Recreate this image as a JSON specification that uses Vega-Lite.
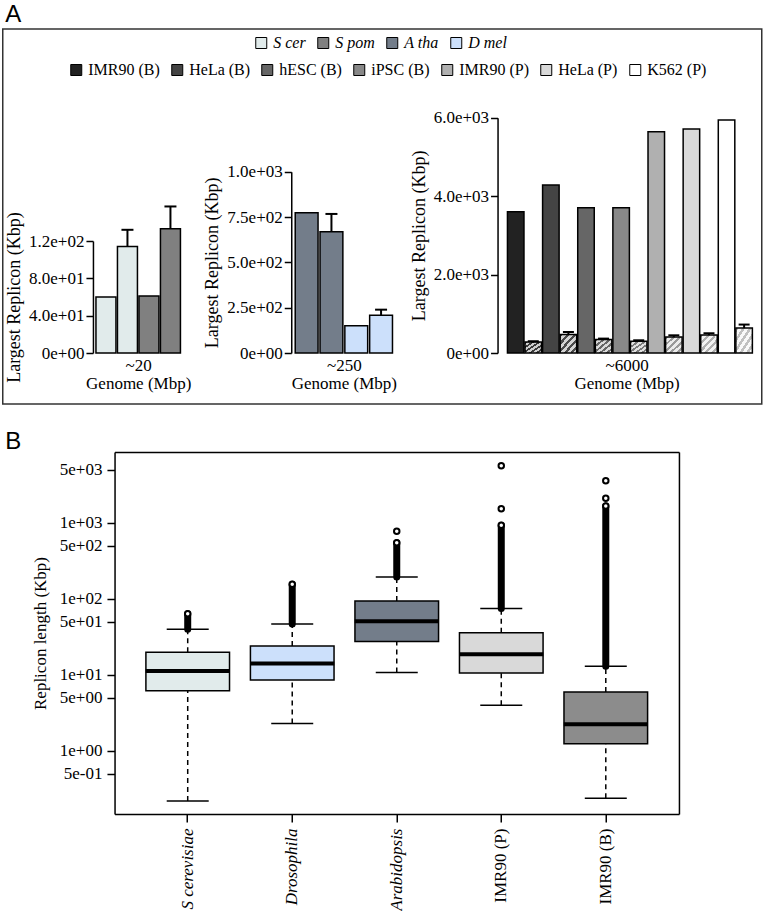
{
"$schema": "https://vega.github.io/schema/vega-lite/v6.json",
"padding": {"left": 1.75, "top": 2, "right": 0, "bottom": 0},
"config": {
  "font": "Liberation Serif, Times New Roman, Times, serif",
  "view": {"stroke": null},
  "axis": {"labelFont": "Liberation Serif, Times New Roman, Times, serif", "labelFontSize": 17, "labelColor": "black", "titleFont": "Liberation Serif, Times New Roman, Times, serif", "titleFontSize": 17, "titleFontWeight": "normal", "titleColor": "black", "domainColor": "black", "domainWidth": 1.5, "tickColor": "black", "tickWidth": 1.5, "tickSize": 7, "labelPadding": 2, "grid": false, "labelFlush": false, "labelOverlap": false},
  "legend": {"labelFont": "Liberation Serif, Times New Roman, Times, serif", "labelFontSize": 16, "labelColor": "black", "symbolType": "square", "symbolSize": 121, "symbolStrokeColor": "black", "symbolStrokeWidth": 1, "symbolOpacity": 1, "labelOffset": 4, "columnPadding": 9, "padding": 0, "direction": "horizontal", "orient": "none"},
  "title": {"font": "Liberation Sans, Arial, sans-serif", "fontSize": 24, "fontWeight": "normal", "color": "black", "anchor": "start", "frame": "group"}
},
"bounds": "flush",
"spacing": 48,
"vconcat": [
{
  "title": {"text": "A", "offset": 2, "dx": 2.5},
  "width": 759, "height": 375,
  "view": {"stroke": "#333333", "strokeWidth": 1.5},
  "resolve": {"scale": {"x": "independent", "y": "independent", "color": "independent"}},
  "layer": [
    {
      "data": {"values": [
        {"bar": "S cer 1", "species": "S cer", "value": 60},
        {"bar": "S cer 2", "species": "S cer", "value": 114, "err": 132},
        {"bar": "S pom 1", "species": "S pom", "value": 61},
        {"bar": "S pom 2", "species": "S pom", "value": 133, "err": 157}
      ]},
      "encoding": {
        "x": {"field": "bar", "type": "nominal", "sort": null,
              "scale": {"domain": ["S cer 1", "S cer 2", "S pom 1", "S pom 2"], "range": [90.2, 180.7], "paddingInner": 0.07, "paddingOuter": 0.14},
              "axis": {"orient": "bottom", "title": ["~20", "Genome (Mbp)"], "labels": false, "ticks": false, "domain": false, "offset": -51, "titlePadding": 4, "titleLineHeight": 18}}
      },
      "layer": [
        {"mark": {"type": "bar", "stroke": "black", "strokeWidth": 1.5},
         "encoding": {
           "y": {"field": "value", "type": "quantitative", "stack": null, "title": "Largest Replicon (Kbp)",
                 "scale": {"domain": [0, 120], "range": [324, 212], "nice": false},
                 "axis": {"orient": "left", "values": [0, 40, 80, 120], "labelExpr": "datum.value == 0 ? '0e+00' : replace(format(datum.value, '.1e'), 'e+', 'e+0')", "offset": -90.2, "titlePadding": 5, "titleFontSize": 18}},
           "color": {"field": "species", "type": "nominal",
                     "scale": {"domain": ["S cer", "S pom", "A tha", "D mel"], "range": ["#e1ebeb", "#808080", "#737d8a", "#cce0fb"]},
                     "legend": {"title": null, "legendX": 250.5, "legendY": 6, "labelFontStyle": "italic"}}
         }},
        {"transform": [{"filter": "isValid(datum.err)"}],
         "mark": {"type": "rule", "color": "black", "strokeWidth": 2},
         "encoding": {"y": {"field": "value", "type": "quantitative", "title": "Largest Replicon (Kbp)"}, "y2": {"field": "err"}}},
        {"transform": [{"filter": "isValid(datum.err)"}],
         "mark": {"type": "tick", "color": "black", "thickness": 2, "size": 12, "opacity": 1},
         "encoding": {"y": {"field": "err", "type": "quantitative", "title": "Largest Replicon (Kbp)"}}}
      ]
    },
    {
      "data": {"values": [
        {"bar": "A tha 1", "species": "A tha", "value": 774},
        {"bar": "A tha 2", "species": "A tha", "value": 669, "err": 767},
        {"bar": "D mel 1", "species": "D mel", "value": 150},
        {"bar": "D mel 2", "species": "D mel", "value": 208, "err": 239}
      ]},
      "encoding": {
        "x": {"field": "bar", "type": "nominal", "sort": null,
              "scale": {"domain": ["A tha 1", "A tha 2", "D mel 1", "D mel 2"], "range": [288.5, 393.7], "paddingInner": 0.08, "paddingOuter": 0.16},
              "axis": {"orient": "bottom", "title": ["~250", "Genome (Mbp)"], "labels": false, "ticks": false, "domain": false, "offset": -51, "titlePadding": 4, "titleLineHeight": 18}}
      },
      "layer": [
        {"mark": {"type": "bar", "stroke": "black", "strokeWidth": 1.5},
         "encoding": {
           "y": {"field": "value", "type": "quantitative", "stack": null, "title": "Largest Replicon (Kbp)",
                 "scale": {"domain": [0, 1000], "range": [324, 142.7], "nice": false},
                 "axis": {"orient": "left", "values": [0, 250, 500, 750, 1000], "labelExpr": "datum.value == 0 ? '0e+00' : replace(format(datum.value, '.1e'), 'e+', 'e+0')", "offset": -288.5, "titlePadding": 5, "titleFontSize": 18}},
           "color": {"field": "species", "type": "nominal",
                     "scale": {"domain": ["S cer", "S pom", "A tha", "D mel"], "range": ["#e1ebeb", "#808080", "#737d8a", "#cce0fb"]},
                     "legend": null}
         }},
        {"transform": [{"filter": "isValid(datum.err)"}],
         "mark": {"type": "rule", "color": "black", "strokeWidth": 2},
         "encoding": {"y": {"field": "value", "type": "quantitative", "title": "Largest Replicon (Kbp)"}, "y2": {"field": "err"}}},
        {"transform": [{"filter": "isValid(datum.err)"}],
         "mark": {"type": "tick", "color": "black", "thickness": 2, "size": 12, "opacity": 1},
         "encoding": {"y": {"field": "err", "type": "quantitative", "title": "Largest Replicon (Kbp)"}}}
      ]
    },
    {
      "data": {"values": [
        {"cell": "IMR90 (B)", "measure": "max", "value": 3600},
        {"cell": "IMR90 (B)", "measure": "mean", "value": 281, "err": 300},
        {"cell": "HeLa (B)", "measure": "max", "value": 4281},
        {"cell": "HeLa (B)", "measure": "mean", "value": 470, "err": 536},
        {"cell": "hESC (B)", "measure": "max", "value": 3702},
        {"cell": "hESC (B)", "measure": "mean", "value": 342, "err": 367},
        {"cell": "iPSC (B)", "measure": "max", "value": 3702},
        {"cell": "iPSC (B)", "measure": "mean", "value": 298, "err": 324},
        {"cell": "IMR90 (P)", "measure": "max", "value": 5643},
        {"cell": "IMR90 (P)", "measure": "mean", "value": 409, "err": 451},
        {"cell": "HeLa (P)", "measure": "max", "value": 5711},
        {"cell": "HeLa (P)", "measure": "mean", "value": 460, "err": 503},
        {"cell": "K562 (P)", "measure": "max", "value": 5940},
        {"cell": "K562 (P)", "measure": "mean", "value": 638, "err": 725}
      ]},
      "encoding": {
        "x": {"field": "cell", "type": "nominal", "sort": null,
              "scale": {"domain": ["IMR90 (B)", "HeLa (B)", "hESC (B)", "iPSC (B)", "IMR90 (P)", "HeLa (P)", "K562 (P)"], "range": [494.8, 752.8], "paddingInner": 0, "paddingOuter": 0.171, "align": 0.78},
              "axis": {"orient": "bottom", "title": ["~6000", "Genome (Mbp)"], "labels": false, "ticks": false, "domain": false, "offset": -51, "titlePadding": 4, "titleLineHeight": 18}},
        "xOffset": {"field": "measure", "type": "nominal", "sort": null, "scale": {"domain": ["max", "mean"], "paddingInner": 0.06, "paddingOuter": 0.03}}
      },
      "layer": [
        {"transform": [{"filter": "datum.measure == 'max'"}],
         "mark": {"type": "bar", "stroke": "black", "strokeWidth": 1.5},
         "encoding": {
           "y": {"field": "value", "type": "quantitative", "stack": null, "title": "Largest Replicon (Kbp)",
                 "scale": {"domain": [0, 6000], "range": [324, 88.7], "nice": false},
                 "axis": {"orient": "left", "values": [0, 2000, 4000, 6000], "labelExpr": "datum.value == 0 ? '0e+00' : replace(format(datum.value, '.1e'), 'e+', 'e+0')", "offset": -494.8, "titlePadding": 5, "titleFontSize": 18}},
           "color": {"field": "cell", "type": "nominal",
                     "scale": {"domain": ["IMR90 (B)", "HeLa (B)", "hESC (B)", "iPSC (B)", "IMR90 (P)", "HeLa (P)", "K562 (P)"], "range": ["#222222", "#444444", "#666666", "#888888", "#b0b0b0", "#d9d9d9", "#ffffff"]},
                     "legend": {"title": null, "legendX": 65.5, "legendY": 33}}
         }},
        {"transform": [{"filter": "datum.measure == 'mean'"}],
         "mark": {"type": "bar", "stroke": "black", "strokeWidth": 1.5},
         "encoding": {
           "y": {"field": "value", "type": "quantitative", "stack": null, "title": "Largest Replicon (Kbp)"},
           "fill": {"condition": [
             {"test": "datum.cell == 'IMR90 (B)'", "value": {"gradient": "linear", "x1": 0, "y1": 0, "x2": 1, "y2": 1, "stops": [{"offset": 0, "color": "#3a3a3a"}, {"offset": 0.09, "color": "#3a3a3a"}, {"offset": 0.09, "color": "#cfcfcf"}, {"offset": 0.2, "color": "#cfcfcf"}, {"offset": 0.2, "color": "#3a3a3a"}, {"offset": 0.29, "color": "#3a3a3a"}, {"offset": 0.29, "color": "#cfcfcf"}, {"offset": 0.4, "color": "#cfcfcf"}, {"offset": 0.4, "color": "#3a3a3a"}, {"offset": 0.49, "color": "#3a3a3a"}, {"offset": 0.49, "color": "#cfcfcf"}, {"offset": 0.6, "color": "#cfcfcf"}, {"offset": 0.6, "color": "#3a3a3a"}, {"offset": 0.69, "color": "#3a3a3a"}, {"offset": 0.69, "color": "#cfcfcf"}, {"offset": 0.8, "color": "#cfcfcf"}, {"offset": 0.8, "color": "#3a3a3a"}, {"offset": 0.89, "color": "#3a3a3a"}, {"offset": 0.89, "color": "#cfcfcf"}, {"offset": 1, "color": "#cfcfcf"}]}},
             {"test": "datum.cell == 'HeLa (B)'", "value": {"gradient": "linear", "x1": 0, "y1": 0, "x2": 1, "y2": 1, "stops": [{"offset": 0, "color": "#4a4a4a"}, {"offset": 0.09, "color": "#4a4a4a"}, {"offset": 0.09, "color": "#d4d4d4"}, {"offset": 0.2, "color": "#d4d4d4"}, {"offset": 0.2, "color": "#4a4a4a"}, {"offset": 0.29, "color": "#4a4a4a"}, {"offset": 0.29, "color": "#d4d4d4"}, {"offset": 0.4, "color": "#d4d4d4"}, {"offset": 0.4, "color": "#4a4a4a"}, {"offset": 0.49, "color": "#4a4a4a"}, {"offset": 0.49, "color": "#d4d4d4"}, {"offset": 0.6, "color": "#d4d4d4"}, {"offset": 0.6, "color": "#4a4a4a"}, {"offset": 0.69, "color": "#4a4a4a"}, {"offset": 0.69, "color": "#d4d4d4"}, {"offset": 0.8, "color": "#d4d4d4"}, {"offset": 0.8, "color": "#4a4a4a"}, {"offset": 0.89, "color": "#4a4a4a"}, {"offset": 0.89, "color": "#d4d4d4"}, {"offset": 1, "color": "#d4d4d4"}]}},
             {"test": "datum.cell == 'hESC (B)'", "value": {"gradient": "linear", "x1": 0, "y1": 0, "x2": 1, "y2": 1, "stops": [{"offset": 0, "color": "#666666"}, {"offset": 0.09, "color": "#666666"}, {"offset": 0.09, "color": "#dadada"}, {"offset": 0.2, "color": "#dadada"}, {"offset": 0.2, "color": "#666666"}, {"offset": 0.29, "color": "#666666"}, {"offset": 0.29, "color": "#dadada"}, {"offset": 0.4, "color": "#dadada"}, {"offset": 0.4, "color": "#666666"}, {"offset": 0.49, "color": "#666666"}, {"offset": 0.49, "color": "#dadada"}, {"offset": 0.6, "color": "#dadada"}, {"offset": 0.6, "color": "#666666"}, {"offset": 0.69, "color": "#666666"}, {"offset": 0.69, "color": "#dadada"}, {"offset": 0.8, "color": "#dadada"}, {"offset": 0.8, "color": "#666666"}, {"offset": 0.89, "color": "#666666"}, {"offset": 0.89, "color": "#dadada"}, {"offset": 1, "color": "#dadada"}]}},
             {"test": "datum.cell == 'iPSC (B)'", "value": {"gradient": "linear", "x1": 0, "y1": 0, "x2": 1, "y2": 1, "stops": [{"offset": 0, "color": "#7a7a7a"}, {"offset": 0.09, "color": "#7a7a7a"}, {"offset": 0.09, "color": "#e0e0e0"}, {"offset": 0.2, "color": "#e0e0e0"}, {"offset": 0.2, "color": "#7a7a7a"}, {"offset": 0.29, "color": "#7a7a7a"}, {"offset": 0.29, "color": "#e0e0e0"}, {"offset": 0.4, "color": "#e0e0e0"}, {"offset": 0.4, "color": "#7a7a7a"}, {"offset": 0.49, "color": "#7a7a7a"}, {"offset": 0.49, "color": "#e0e0e0"}, {"offset": 0.6, "color": "#e0e0e0"}, {"offset": 0.6, "color": "#7a7a7a"}, {"offset": 0.69, "color": "#7a7a7a"}, {"offset": 0.69, "color": "#e0e0e0"}, {"offset": 0.8, "color": "#e0e0e0"}, {"offset": 0.8, "color": "#7a7a7a"}, {"offset": 0.89, "color": "#7a7a7a"}, {"offset": 0.89, "color": "#e0e0e0"}, {"offset": 1, "color": "#e0e0e0"}]}},
             {"test": "datum.cell == 'IMR90 (P)'", "value": {"gradient": "linear", "x1": 0, "y1": 0, "x2": 1, "y2": 1, "stops": [{"offset": 0, "color": "#9a9a9a"}, {"offset": 0.09, "color": "#9a9a9a"}, {"offset": 0.09, "color": "#ececec"}, {"offset": 0.2, "color": "#ececec"}, {"offset": 0.2, "color": "#9a9a9a"}, {"offset": 0.29, "color": "#9a9a9a"}, {"offset": 0.29, "color": "#ececec"}, {"offset": 0.4, "color": "#ececec"}, {"offset": 0.4, "color": "#9a9a9a"}, {"offset": 0.49, "color": "#9a9a9a"}, {"offset": 0.49, "color": "#ececec"}, {"offset": 0.6, "color": "#ececec"}, {"offset": 0.6, "color": "#9a9a9a"}, {"offset": 0.69, "color": "#9a9a9a"}, {"offset": 0.69, "color": "#ececec"}, {"offset": 0.8, "color": "#ececec"}, {"offset": 0.8, "color": "#9a9a9a"}, {"offset": 0.89, "color": "#9a9a9a"}, {"offset": 0.89, "color": "#ececec"}, {"offset": 1, "color": "#ececec"}]}},
             {"test": "datum.cell == 'HeLa (P)'", "value": {"gradient": "linear", "x1": 0, "y1": 0, "x2": 1, "y2": 1, "stops": [{"offset": 0, "color": "#b0b0b0"}, {"offset": 0.09, "color": "#b0b0b0"}, {"offset": 0.09, "color": "#f2f2f2"}, {"offset": 0.2, "color": "#f2f2f2"}, {"offset": 0.2, "color": "#b0b0b0"}, {"offset": 0.29, "color": "#b0b0b0"}, {"offset": 0.29, "color": "#f2f2f2"}, {"offset": 0.4, "color": "#f2f2f2"}, {"offset": 0.4, "color": "#b0b0b0"}, {"offset": 0.49, "color": "#b0b0b0"}, {"offset": 0.49, "color": "#f2f2f2"}, {"offset": 0.6, "color": "#f2f2f2"}, {"offset": 0.6, "color": "#b0b0b0"}, {"offset": 0.69, "color": "#b0b0b0"}, {"offset": 0.69, "color": "#f2f2f2"}, {"offset": 0.8, "color": "#f2f2f2"}, {"offset": 0.8, "color": "#b0b0b0"}, {"offset": 0.89, "color": "#b0b0b0"}, {"offset": 0.89, "color": "#f2f2f2"}, {"offset": 1, "color": "#f2f2f2"}]}}
           ],
           "value": {"gradient": "linear", "x1": 0, "y1": 0, "x2": 1, "y2": 1, "stops": [{"offset": 0, "color": "#c0c0c0"}, {"offset": 0.09, "color": "#c0c0c0"}, {"offset": 0.09, "color": "#f8f8f8"}, {"offset": 0.2, "color": "#f8f8f8"}, {"offset": 0.2, "color": "#c0c0c0"}, {"offset": 0.29, "color": "#c0c0c0"}, {"offset": 0.29, "color": "#f8f8f8"}, {"offset": 0.4, "color": "#f8f8f8"}, {"offset": 0.4, "color": "#c0c0c0"}, {"offset": 0.49, "color": "#c0c0c0"}, {"offset": 0.49, "color": "#f8f8f8"}, {"offset": 0.6, "color": "#f8f8f8"}, {"offset": 0.6, "color": "#c0c0c0"}, {"offset": 0.69, "color": "#c0c0c0"}, {"offset": 0.69, "color": "#f8f8f8"}, {"offset": 0.8, "color": "#f8f8f8"}, {"offset": 0.8, "color": "#c0c0c0"}, {"offset": 0.89, "color": "#c0c0c0"}, {"offset": 0.89, "color": "#f8f8f8"}, {"offset": 1, "color": "#f8f8f8"}]}}
         }},
        {"transform": [{"filter": "isValid(datum.err)"}],
         "mark": {"type": "rule", "color": "black", "strokeWidth": 2},
         "encoding": {"y": {"field": "value", "type": "quantitative", "title": "Largest Replicon (Kbp)"}, "y2": {"field": "err"}}},
        {"transform": [{"filter": "isValid(datum.err)"}],
         "mark": {"type": "tick", "color": "black", "thickness": 2, "size": 11, "opacity": 1},
         "encoding": {"y": {"field": "err", "type": "quantitative", "title": "Largest Replicon (Kbp)"}}}
      ]
    }
  ]
},
{
  "title": {"text": "B", "offset": -21, "dx": 2.5, "baseline": "alphabetic"},
  "width": 676.2, "height": 362,
  "resolve": {"axis": {"x": "independent", "y": "independent"}},
  "data": {"values": [
    {"cat": "S cerevisiae", "lo": 0.22, "q1": 6.2, "med": 11.3, "q3": 19.9, "hi": 40, "omax": 64},
    {"cat": "Drosophila", "lo": 2.29, "q1": 8.6, "med": 14.1, "q3": 24.1, "hi": 47, "omax": 156},
    {"cat": "Arabidopsis", "lo": 10.8, "q1": 27.5, "med": 51, "q3": 94, "hi": 195, "omax": 551},
    {"cat": "IMR90 (P)", "lo": 4.0, "q1": 10.6, "med": 18.7, "q3": 36, "hi": 75, "omax": 933},
    {"cat": "IMR90 (B)", "lo": 0.238, "q1": 1.24, "med": 2.25, "q3": 5.97, "hi": 13, "omax": 1670}
  ]},
  "encoding": {
    "x": {"field": "cat", "type": "nominal", "sort": null,
          "scale": {"domain": ["S cerevisiae", "Drosophila", "Arabidopsis", "IMR90 (P)", "IMR90 (B)"], "range": [111.8, 676.2], "paddingInner": 0.2, "paddingOuter": 0.3},
          "axis": null}
  },
  "layer": [
    {"mark": {"type": "rule", "color": "black", "strokeWidth": 1.5, "strokeDash": [5, 4]},
     "encoding": {"y": {"field": "q3", "type": "quantitative", "scale": {"type": "log", "domain": [0.148, 8590], "nice": false}, "axis": null}, "y2": {"field": "hi"}}},
    {"mark": {"type": "rule", "color": "black", "strokeWidth": 1.5, "strokeDash": [5, 4]},
     "encoding": {"y": {"field": "lo", "type": "quantitative", "scale": {"type": "log", "domain": [0.148, 8590], "nice": false}, "axis": null}, "y2": {"field": "q1"}}},
    {"mark": {"type": "rule", "color": "black", "strokeWidth": 7, "strokeCap": "round"},
     "encoding": {"y": {"field": "hi", "type": "quantitative", "scale": {"type": "log", "domain": [0.148, 8590], "nice": false}, "axis": null}, "y2": {"field": "omax"}}},
    {"mark": {"type": "tick", "color": "black", "thickness": 1.5, "size": 42, "opacity": 1},
     "encoding": {"y": {"field": "hi", "type": "quantitative", "scale": {"type": "log", "domain": [0.148, 8590], "nice": false}, "axis": null}}},
    {"mark": {"type": "tick", "color": "black", "thickness": 1.5, "size": 42, "opacity": 1},
     "encoding": {"y": {"field": "lo", "type": "quantitative", "scale": {"type": "log", "domain": [0.148, 8590], "nice": false}, "axis": null}}},
    {"mark": {"type": "bar", "stroke": "black", "strokeWidth": 1.5},
     "encoding": {
       "x": {"field": "cat", "type": "nominal", "sort": null,
             "scale": {"domain": ["S cerevisiae", "Drosophila", "Arabidopsis", "IMR90 (P)", "IMR90 (B)"], "range": [111.8, 676.2], "paddingInner": 0.2, "paddingOuter": 0.3},
             "axis": {"orient": "bottom", "title": null, "labelAngle": -90, "tickSize": 8, "labelPadding": 6,
                      "labelFontStyle": {"condition": {"test": "indexof(datum.value, 'IMR90') < 0", "value": "italic"}, "value": "normal"}}},
       "y": {"field": "q1", "type": "quantitative", "title": "Replicon length (Kbp)",
             "scale": {"type": "log", "domain": [0.148, 8590], "nice": false},
             "axis": {"orient": "left", "values": [0.5, 1, 5, 10, 50, 100, 500, 1000, 5000], "labelExpr": "replace(replace(format(datum.value, '.0e'), 'e+', 'e+0'), 'e-', 'e-0')", "offset": -111.8, "tickSize": 7.6, "labelPadding": 5, "titlePadding": 10}},
       "y2": {"field": "q3"},
       "color": {"field": "cat", "type": "nominal", "scale": {"domain": ["S cerevisiae", "Drosophila", "Arabidopsis", "IMR90 (P)", "IMR90 (B)"], "range": ["#e1ebeb", "#cce0fb", "#737d8a", "#d9d9d9", "#8c8c8c"]}, "legend": null}
     }},
    {"mark": {"type": "tick", "color": "black", "thickness": 4, "size": 84, "opacity": 1},
     "encoding": {
       "x": {"field": "cat", "type": "nominal", "sort": null,
             "scale": {"domain": ["S cerevisiae", "Drosophila", "Arabidopsis", "IMR90 (P)", "IMR90 (B)"], "range": [111.8, 676.2], "paddingInner": 0.2, "paddingOuter": 0.3},
             "axis": {"orient": "top", "title": null, "labels": false, "ticks": false}},
       "y": {"field": "med", "type": "quantitative", "scale": {"type": "log", "domain": [0.148, 8590], "nice": false},
             "axis": {"orient": "right", "title": null, "labels": false, "ticks": false}}
     }},
    {"data": {"values": [
       {"cat": "S cerevisiae", "v": 64},
       {"cat": "Drosophila", "v": 156},
       {"cat": "Arabidopsis", "v": 551},
       {"cat": "Arabidopsis", "v": 777},
       {"cat": "IMR90 (P)", "v": 933},
       {"cat": "IMR90 (P)", "v": 1540},
       {"cat": "IMR90 (P)", "v": 5680},
       {"cat": "IMR90 (B)", "v": 1670},
       {"cat": "IMR90 (B)", "v": 2113},
       {"cat": "IMR90 (B)", "v": 3600}
     ]},
     "mark": {"type": "point", "shape": "circle", "filled": true, "fill": "white", "stroke": "black", "strokeWidth": 2, "size": 30, "opacity": 1},
     "encoding": {"y": {"field": "v", "type": "quantitative", "scale": {"type": "log", "domain": [0.148, 8590], "nice": false}, "axis": null}}}
  ]
}
]
}
